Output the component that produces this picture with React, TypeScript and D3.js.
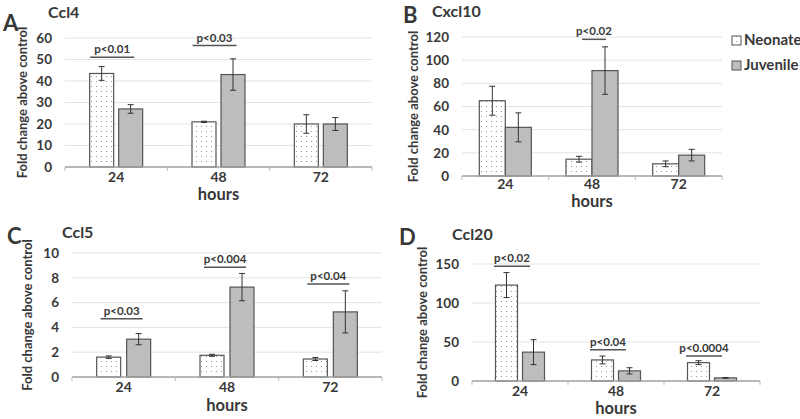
import React from "react";
import * as d3 from "d3";

// ---- data ----
const categories = ["24", "48", "72"];
const seriesNames = ["Neonate", "Juvenile"];

const ccl4Neonate = [43.5, 21, 20];
const ccl4NeonateErr = [3.2, 0.3, 4.3];
const ccl4Juvenile = [27, 43, 20];
const ccl4JuvenileErr = [2, 7.3, 3];
const ccl4Ticks = [0, 10, 20, 30, 40, 50, 60];
const ccl4PValues = [
  { cat: "24", y: 51, label: "p<0.01" },
  { cat: "48", y: 56.5, label: "p<0.03" },
];

const cxcl10Neonate = [65, 14.5, 10.5];
const cxcl10NeonateErr = [12.5, 2.5, 2.5];
const cxcl10Juvenile = [42, 91, 18];
const cxcl10JuvenileErr = [12.5, 20.5, 5];
const cxcl10Ticks = [0, 20, 40, 60, 80, 100, 120];
const cxcl10PValues = [{ cat: "48", y: 118, label: "p<0.02" }];

const ccl5Neonate = [1.6, 1.75, 1.45];
const ccl5NeonateErr = [0.1, 0.08, 0.12];
const ccl5Juvenile = [3.05, 7.25, 5.25];
const ccl5JuvenileErr = [0.45, 1.1, 1.7];
const ccl5Ticks = [0, 2, 4, 6, 8, 10];
const ccl5PValues = [
  { cat: "24", y: 4.7, label: "p<0.03" },
  { cat: "48", y: 8.85, label: "p<0.004" },
  { cat: "72", y: 7.5, label: "p<0.04" },
];

const ccl20Neonate = [123, 27, 23.5];
const ccl20NeonateErr = [16, 5, 2.5];
const ccl20Juvenile = [37, 13, 4];
const ccl20JuvenileErr = [16, 4, 0.5];
const ccl20Ticks = [0, 50, 100, 150];
const ccl20PValues = [
  { cat: "24", y: 147, label: "p<0.02" },
  { cat: "48", y: 40, label: "p<0.04" },
  { cat: "72", y: 32, label: "p<0.0004" },
];

const FONT = "Lato, 'Liberation Sans', sans-serif";
const TEXT = "#383838";

type PanelProps = {
  letter: string;
  title: string;
  neonate: number[];
  neonateErr: number[];
  juvenile: number[];
  juvenileErr: number[];
  ticks: number[];
  pvals: { cat: string; y: number; label: string }[];
  x0: number;
  x1: number;
  yTop: number;
  yBottom: number;
  barW: number;
  gap: number;
  letterPos: [number, number];
  titlePos: [number, number];
  yTitleX: number;
  hoursY: number;
  tickDy: number;
  pHalf: number;
  pShift: number;
};

function Panel(p: PanelProps) {
  const x = d3.scaleBand().domain(categories).range([p.x0, p.x1]).padding(0);
  const maxT = p.ticks[p.ticks.length - 1];
  const y = d3.scaleLinear().domain([0, maxT]).range([p.yBottom, p.yTop]);
  const series = [
    { vals: p.neonate, err: p.neonateErr, fill: "url(#dots)" },
    { vals: p.juvenile, err: p.juvenileErr, fill: "#bdbdbd" },
  ];
  const center = (c: string) => (x(c) as number) + x.bandwidth() / 2;
  const midY = (p.yTop + p.yBottom) / 2;
  return (
    <g>
      <text x={p.letterPos[0]} y={p.letterPos[1]} fontSize={22} fontWeight={700} fill={TEXT} fontFamily={FONT}>
        {p.letter}
      </text>
      <text x={p.titlePos[0]} y={p.titlePos[1]} fontSize={16} fontWeight={700} fill={TEXT} fontFamily={FONT}>
        {p.title}
      </text>
      {p.ticks.map((t) => (
        <g key={t}>
          {t > 0 && (
            <line x1={p.x0} x2={p.x1} y1={y(t)} y2={y(t)} stroke="#e3e3e3" strokeWidth={1} />
          )}
          <text
            x={p.x0 - 13}
            y={y(t)}
            dy="0.36em"
            textAnchor="end"
            fontSize={13.5}
            fontWeight={700}
            fill={TEXT}
            fontFamily={FONT}
          >
            {t}
          </text>
        </g>
      ))}
      <text
        transform={`translate(${p.yTitleX},${midY}) rotate(-90)`}
        textAnchor="middle"
        fontSize={13}
        fontWeight={700}
        fill={TEXT}
        fontFamily={FONT}
      >
        Fold change above control
      </text>
      {categories.map((c, i) =>
        series.map((s, k) => {
          const cx = center(c);
          const bx = k === 0 ? cx - p.gap / 2 - p.barW : cx + p.gap / 2;
          const v = s.vals[i];
          const e = s.err[i];
          const ex = bx + p.barW / 2;
          return (
            <g key={c + k}>
              <rect
                x={bx}
                y={y(v)}
                width={p.barW}
                height={y(0) - y(v)}
                fill={s.fill}
                stroke="#555"
                strokeWidth={1.2}
              />
              <line x1={ex} x2={ex} y1={y(v - e)} y2={y(v + e)} stroke="#333" strokeWidth={1} />
              <line x1={ex - 3} x2={ex + 3} y1={y(v + e)} y2={y(v + e)} stroke="#333" strokeWidth={1} />
              <line x1={ex - 3} x2={ex + 3} y1={y(v - e)} y2={y(v - e)} stroke="#333" strokeWidth={1} />
            </g>
          );
        })
      )}
      <line x1={p.x0} x2={p.x1} y1={y(0)} y2={y(0)} stroke="#a0a0a0" strokeWidth={1.3} />
      {categories.map((c) => (
        <line
          key={"t" + c}
          x1={x(c) as number}
          x2={x(c) as number}
          y1={y(0)}
          y2={y(0) + 4}
          stroke="#bbb"
          strokeWidth={1}
        />
      ))}
      <line x1={p.x1} x2={p.x1} y1={y(0)} y2={y(0) + 4} stroke="#bbb" strokeWidth={1} />
      {categories.map((c) => (
        <text
          key={"l" + c}
          x={center(c)}
          y={y(0) + p.tickDy}
          textAnchor="middle"
          fontSize={14}
          fontWeight={700}
          fill={TEXT}
          fontFamily={FONT}
        >
          {c}
        </text>
      ))}
      <text
        x={(p.x0 + p.x1) / 2}
        y={p.hoursY}
        textAnchor="middle"
        fontSize={16.5}
        fontWeight={700}
        fill={TEXT}
        fontFamily={FONT}
      >
        hours
      </text>
      {p.pvals.map((pv) => {
        const cx = center(pv.cat) + p.pShift;
        return (
          <g key={"p" + pv.cat}>
            <line x1={cx - p.pHalf} x2={cx + p.pHalf} y1={y(pv.y)} y2={y(pv.y)} stroke="#555" strokeWidth={1.5} />
            <text
              x={cx}
              y={y(pv.y) - 4}
              textAnchor="middle"
              fontSize={11.5}
              fontWeight={700}
              fill={TEXT}
              fontFamily={FONT}
            >
              {pv.label}
            </text>
          </g>
        );
      })}
    </g>
  );
}

export default function App() {
  return (
    <svg width={800} height={419} style={{ position: "absolute", left: 0, top: 0, background: "#fff" }}>
      <defs>
        <pattern id="dots" width={5} height={5} patternUnits="userSpaceOnUse">
          <rect width={5} height={5} fill="#fff" />
          <circle cx={1.5} cy={1.5} r={0.6} fill="#8a8a8a" />
        </pattern>
      </defs>
      <rect width={800} height={419} fill="#fff" />
      <Panel
        letter="A"
        title="Ccl4"
        neonate={ccl4Neonate}
        neonateErr={ccl4NeonateErr}
        juvenile={ccl4Juvenile}
        juvenileErr={ccl4JuvenileErr}
        ticks={ccl4Ticks}
        pvals={ccl4PValues}
        x0={65}
        x1={372}
        yTop={38}
        yBottom={167}
        barW={24}
        gap={5}
        letterPos={[3, 31]}
        titlePos={[48, 18]}
        yTitleX={27}
        hoursY={200}
        tickDy={15}
        pHalf={22}
        pShift={-4}
      />
      <Panel
        letter="B"
        title="Cxcl10"
        neonate={cxcl10Neonate}
        neonateErr={cxcl10NeonateErr}
        juvenile={cxcl10Juvenile}
        juvenileErr={cxcl10JuvenileErr}
        ticks={cxcl10Ticks}
        pvals={cxcl10PValues}
        x0={462}
        x1={722}
        yTop={37}
        yBottom={176}
        barW={26}
        gap={0}
        letterPos={[403, 23]}
        titlePos={[432, 17]}
        yTitleX={418}
        hoursY={207}
        tickDy={13}
        pHalf={12}
        pShift={2}
      />
      <Panel
        letter="C"
        title="Ccl5"
        neonate={ccl5Neonate}
        neonateErr={ccl5NeonateErr}
        juvenile={ccl5Juvenile}
        juvenileErr={ccl5JuvenileErr}
        ticks={ccl5Ticks}
        pvals={ccl5PValues}
        x0={72}
        x1={382}
        yTop={253}
        yBottom={377}
        barW={24}
        gap={6}
        letterPos={[7, 244]}
        titlePos={[62, 238]}
        yTitleX={32}
        hoursY={411}
        tickDy={15}
        pHalf={21}
        pShift={-2}
      />
      <Panel
        letter="D"
        title="Ccl20"
        neonate={ccl20Neonate}
        neonateErr={ccl20NeonateErr}
        juvenile={ccl20Juvenile}
        juvenileErr={ccl20JuvenileErr}
        ticks={ccl20Ticks}
        pvals={ccl20PValues}
        x0={472}
        x1={760}
        yTop={264}
        yBottom={381}
        barW={22}
        gap={5}
        letterPos={[399, 245]}
        titlePos={[452, 240]}
        yTitleX={427}
        hoursY={414}
        tickDy={15}
        pHalf={18}
        pShift={-8}
      />
      {seriesNames.map((n, i) => (
        <g key={n}>
          <rect
            x={732}
            y={36 + i * 25}
            width={9}
            height={9}
            fill={i === 0 ? "url(#dots)" : "#bdbdbd"}
            stroke="#555"
            strokeWidth={1}
          />
          <text x={744} y={45 + i * 25} fontSize={15} fontWeight={700} fill={TEXT} fontFamily={FONT}>
            {n}
          </text>
        </g>
      ))}
    </svg>
  );
}
